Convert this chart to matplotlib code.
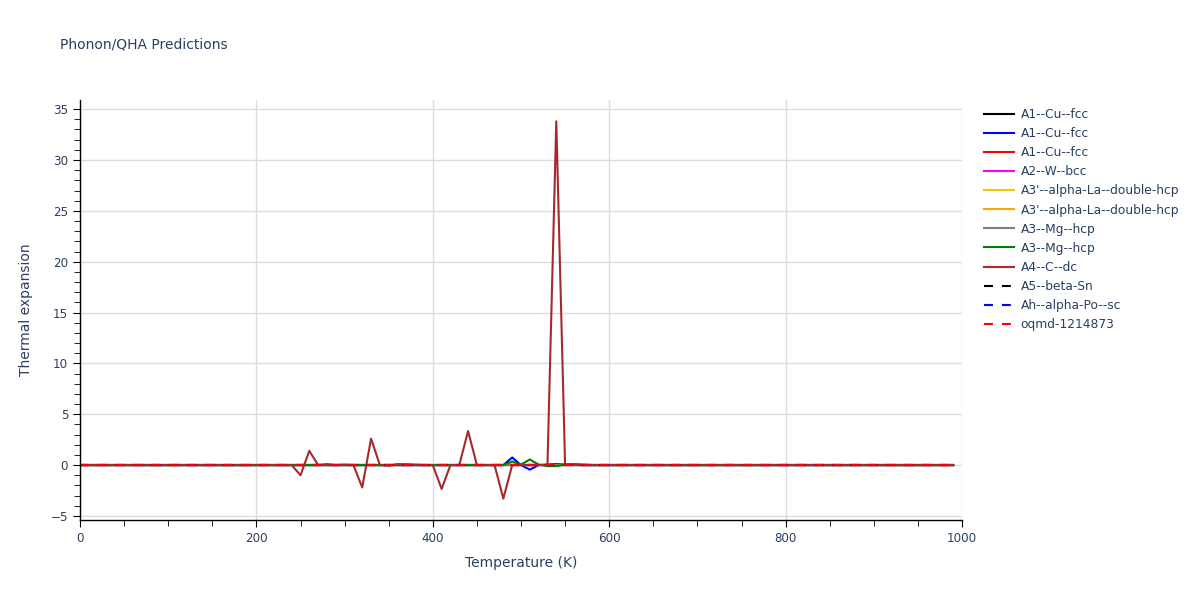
# Phonon/QHA thermal expansion predictions

import numpy as np
import matplotlib.pyplot as plt
from matplotlib.ticker import MultipleLocator

# temperature grid (K)
temps = np.arange(0, 1000, 10)

# traces in legend order
labels = ["A1--Cu--fcc", "A1--Cu--fcc", "A1--Cu--fcc", "A2--W--bcc",
          "A3'--alpha-La--double-hcp", "A3'--alpha-La--double-hcp",
          "A3--Mg--hcp", "A3--Mg--hcp", "A4--C--dc",
          "A5--beta-Sn", "Ah--alpha-Po--sc", "oqmd-1214873"]
colors = ["black", "blue", "red", "magenta", "#f5c400", "orange",
          "gray", "green", "#a52a2a", "black", "blue", "red"]
dashed = [False]*9 + [True]*3

# nonzero points, everything else sits at 0
cu2_T = [480, 490, 500, 510, 520, 530, 540, 550]
cu2_v = [0.0, 0.75, 0.0, -0.45, 0.0, 0.05, 0.1, 0.05]

mg2_T = [480, 490, 500, 510, 520, 530, 540, 550, 560]
mg2_v = [0.0, 0.35, 0.05, 0.55, 0.05, -0.1, -0.1, 0.05, 0.05]

dc_T = [240, 250, 260, 270, 280, 290, 300, 310, 320, 330, 340, 350, 360,
        370, 380, 390, 400, 410, 420, 430, 440, 450, 460, 470, 480, 490,
        500, 510, 520, 530, 540, 550, 560, 570, 580]
dc_v = [0.0, -1.0, 1.4, 0.0, 0.1, 0.0, 0.05, 0.0, -2.2, 2.6, 0.0, -0.05,
        0.1, 0.08, 0.05, 0.0, 0.0, -2.35, 0.0, 0.0, 3.35, 0.0, 0.0, 0.0,
        -3.3, 0.0, 0.0, 0.0, 0.0, 0.0, 33.8, 0.0, 0.1, 0.05, 0.0]

def series(T=None, v=None):
    y = np.zeros(len(temps))
    if T is not None:
        for t, val in zip(T, v):
            y[np.searchsorted(temps, t)] = val
    return y

values = [series() for _ in labels]
values[1] = series(cu2_T, cu2_v)
values[7] = series(mg2_T, mg2_v)
values[8] = series(dc_T, dc_v)

txt = '#2a3f5f'
plt.rcParams['font.family'] = ['DejaVu Sans']

fig = plt.figure(figsize=(12, 6), dpi=100)
ax = fig.add_axes([80/1200, 1-520/600, 882/1200, 420/600])

for lab, col, ds, y in zip(labels, colors, dashed, values):
    if ds:
        ax.plot(temps, y, color=col, lw=1.5, dashes=(4.3, 4.3), label=lab)
    else:
        ax.plot(temps, y, color=col, lw=1.5, label=lab)

ax.set_xlim(0, 1000)
ax.set_ylim(-5.4, 35.9)
ax.xaxis.set_major_locator(MultipleLocator(200))
ax.xaxis.set_minor_locator(MultipleLocator(50))
ax.yaxis.set_major_locator(MultipleLocator(5))
ax.yaxis.set_minor_locator(MultipleLocator(1))
ax.grid(True, which='major', color='#dcdcdc', lw=1)
ax.set_axisbelow(True)
for s in ['top', 'right']:
    ax.spines[s].set_visible(False)
for s in ['left', 'bottom']:
    ax.spines[s].set_color('black')
    ax.spines[s].set_linewidth(1)
ax.tick_params(which='major', length=5, color='black', labelcolor=txt, labelsize=8.6, direction='out')
ax.tick_params(which='minor', length=4, color='black', direction='out')

ax.set_xlabel('Temperature (K)', color=txt, fontsize=10, labelpad=8)
ax.set_ylabel('Thermal expansion', color=txt, fontsize=10, labelpad=13)
fig.text(60/1200, 1-45/600, 'Phonon/QHA Predictions', color=txt, fontsize=10, va='center')

leg = ax.legend(loc='upper left', bbox_to_anchor=(984/1200, 1-108/600), bbox_transform=fig.transFigure,
                frameon=False, fontsize=8.8, handlelength=2.45, handletextpad=0.55, labelspacing=0.5,
                borderaxespad=0, borderpad=0)
for t in leg.get_texts():
    t.set_color(txt)

fig.savefig('out.png', dpi=100)
